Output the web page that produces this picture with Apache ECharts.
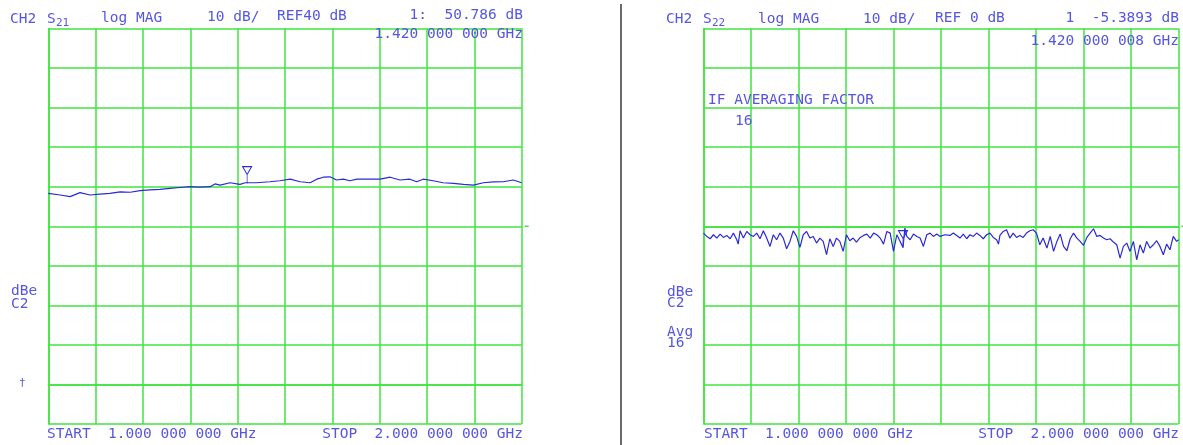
<!DOCTYPE html>
<html>
<head>
<meta charset="utf-8">
<script src="https://cdn.jsdelivr.net/npm/echarts@6/dist/echarts.min.js"></script>
<style>
html,body{margin:0;padding:0;background:#fff;}
#c{width:1183px;height:445px;}
</style>
</head>
<body>
<div id="c"></div>
<script>
// ---- data ----
const S21_FREQ_GHZ = [1.000,1.025,1.046,1.067,1.088,1.109,1.130,1.152,1.173,1.194,1.215,1.236,1.257,1.278,1.299,1.320,1.342,1.352,1.363,1.384,1.405,1.416,1.420,1.440,1.468,1.489,1.511,1.532,1.553,1.567,1.581,1.595,1.609,1.623,1.637,1.652,1.673,1.701,1.722,1.743,1.764,1.778,1.792,1.813,1.834,1.856,1.877,1.898,1.919,1.940,1.961,1.982,2.000];
const S21_DB = [48.3,47.9,47.5,48.5,47.9,48.1,48.3,48.7,48.6,49.0,49.2,49.3,49.6,49.8,50.0,49.9,50.0,50.7,50.4,51.0,50.6,51.0,50.786,51.0,51.25,51.5,51.9,51.25,51.0,51.9,52.4,52.5,51.7,51.9,51.5,51.9,51.9,51.9,52.4,51.7,51.9,51.25,51.9,51.5,51.0,50.85,50.6,50.4,51.0,51.2,51.25,51.7,51.0];

const S22_FREQ_GHZ = [1.000,1.007,1.014,1.021,1.028,1.035,1.042,1.049,1.056,1.063,1.070,1.073,1.077,1.084,1.091,1.098,1.105,1.112,1.119,1.126,1.133,1.140,1.147,1.154,1.161,1.168,1.175,1.182,1.189,1.196,1.203,1.210,1.217,1.224,1.231,1.238,1.245,1.252,1.259,1.266,1.273,1.280,1.287,1.294,1.301,1.308,1.315,1.322,1.330,1.337,1.344,1.351,1.358,1.365,1.372,1.379,1.386,1.393,1.400,1.407,1.414,1.420,1.424,1.428,1.435,1.442,1.449,1.456,1.463,1.470,1.477,1.484,1.491,1.498,1.508,
1.519,1.526,1.533,1.540,1.547,1.554,1.561,1.568,1.575,1.582,1.589,1.596,1.603,1.610,1.617,1.621,1.624,1.631,1.638,1.645,1.652,1.659,1.666,1.673,1.680,1.687,1.694,1.701,1.708,1.715,1.723,1.730,1.737,1.744,1.751,1.758,1.765,1.772,1.779,1.786,1.793,1.800,1.807,1.814,1.821,1.828,1.835,1.842,1.849,1.856,1.863,1.870,1.877,1.884,1.891,1.898,1.905,1.912,1.919,1.926,1.933,1.940,1.947,1.954,1.961,1.968,1.975,1.982,1.989,1.996,2.000];
const S22_DB = [-1.73,-2.57,-3.16,-2.15,-2.99,-1.98,-2.82,-2.32,-3.16,-1.73,-3.41,-4.51,-1.14,-2.99,-1.31,-2.15,-2.57,-1.73,-3.16,-1.14,-2.99,-5.10,-2.15,-3.41,-1.73,-2.99,-5.69,-3.83,-1.14,-2.57,-5.35,-2.15,-1.31,-2.99,-2.57,-4.25,-2.99,-3.83,-7.20,-3.16,-5.10,-2.99,-3.83,-6.36,-2.15,-3.66,-2.99,-4.00,-2.82,-2.32,-1.98,-2.99,-1.73,-2.15,-2.99,-4.51,-1.31,-1.73,-6.36,-2.15,-3.83,-5.39,-0.46,-2.57,-3.41,-1.98,-2.57,-2.99,-5.10,-2.15,-1.73,-2.57,-1.98,-2.57,-2.15,
-2.32,-1.73,-2.32,-2.99,-1.98,-3.16,-2.15,-2.57,-1.73,-2.32,-3.16,-2.15,-1.73,-2.82,-3.41,-4.51,-2.32,-1.31,-0.88,-2.99,-1.73,-2.82,-2.32,-2.82,-1.73,-1.14,-0.88,-1.73,-4.68,-2.99,-5.52,-2.57,-6.36,-3.83,-1.98,-5.10,-6.19,-3.16,-1.73,-2.99,-3.83,-4.84,-2.82,-1.73,-0.63,-2.57,-2.32,-2.99,-3.41,-3.16,-4.00,-4.68,-8.05,-5.10,-4.25,-6.36,-3.83,-8.47,-4.68,-6.78,-3.83,-5.52,-4.68,-3.66,-5.10,-7.20,-4.51,-5.94,-2.57,-3.83,-3.41];

const MARKER_GHZ = 1.42;
const S21_MARKER_DB = 50.786;
const S22_MARKER_DB = -5.3893;
const S21_REF_DB = 40;
const S22_REF_DB = 0;

// ---- styles ----
const GREEN = '#3fe43f';
const TRACE = '#2a2ad6';
const TXT = '#5656e2';
const FONT = '"DejaVu Sans Mono", "Liberation Mono", monospace';

function pairs(xs, ys){ return xs.map((x,i)=>[x, ys[i]]); }

const markerPath = 'path://M0,0 L10,0 L5,8 Z M5,8 L5,17';

function xAxis(gi){
  return {gridIndex:gi, type:'value', min:1, max:2, interval:0.1,
    axisLabel:{show:false}, axisTick:{show:false},
    axisLine:{show:true, lineStyle:{color:GREEN, width:1.5}},
    splitLine:{show:true, lineStyle:{color:GREEN, width:1.5}}};
}
function yAxis(gi, min, max){
  return {gridIndex:gi, type:'value', min:min, max:max, interval:10,
    axisLabel:{show:false}, axisTick:{show:false},
    axisLine:{show:true, lineStyle:{color:GREEN, width:1.5}},
    splitLine:{show:true, lineStyle:{color:GREEN, width:1.5}}};
}
function trace(gi, xs, ys, mdb, ref){
  return {type:'line', xAxisIndex:gi, yAxisIndex:gi, data:pairs(xs, ys),
    showSymbol:false, symbol:'none', animation:false,
    lineStyle:{color:TRACE, width:1.2}, z:5,
    markPoint:{animation:false, silent:true, data:[
      {coord:[MARKER_GHZ, mdb], symbol:markerPath, symbolSize:[9,17], symbolOffset:[0,'-50%'],
       itemStyle:{color:'rgba(0,0,0,0)', borderColor:TRACE, borderWidth:1}, label:{show:false}},
      {coord:[2, ref], symbol:'rect', symbolSize:[4,1.5], symbolOffset:[5,0],
       itemStyle:{color:GREEN}, label:{show:false}}
    ]}};
}

function t(text, x, y, opts){
  opts = opts || {};
  return {type:'text', silent:true, z:10, style:{text:text, x:x, y:y, fill:TXT,
    font:(opts.size||14.5)+'px '+FONT, textAlign:opts.align||'left', textVerticalAlign:'middle'}};
}

const texts = [
  // left panel
  t('CH2', 10, 19), t('S', 47, 19), t('21', 56, 23, {size:11}),
  t('log MAG', 101, 18), t('10 dB/', 207, 17), t('REF40 dB', 277, 16),
  t('1:  50.786 dB', 523, 15, {align:'right'}),
  t('1.420 000 000 GHz', 523, 34, {align:'right'}),
  t('dBe', 11, 291), t('C2', 11, 304), t('†', 19, 383, {size:11}),
  t('START  1.000 000 000 GHz', 47, 434),
  t('STOP  2.000 000 000 GHz', 523, 434, {align:'right'}),
  // right panel
  t('CH2', 666, 19), t('S', 703, 19), t('22', 712, 23, {size:11}),
  t('log MAG', 758, 19), t('10 dB/', 863, 19), t('REF 0 dB', 935, 18.5),
  t('1  -5.3893 dB', 1179, 18.5, {align:'right'}),
  t('1.420 000 008 GHz', 1179, 41, {align:'right'}),
  t('IF AVERAGING FACTOR', 708, 100), t('16', 735, 121),
  t('dBe', 667, 292), t('C2', 667, 303), t('Avg', 667, 332), t('16', 667, 343),
  t('START  1.000 000 000 GHz', 704, 434),
  t('STOP  2.000 000 000 GHz', 1179, 434, {align:'right'}),
  // divider
  {type:'line', silent:true, shape:{x1:621, y1:4, x2:621, y2:445}, style:{stroke:'#6a6a6a', lineWidth:2}}
];

const chart = echarts.init(document.getElementById('c'), null, {renderer:'canvas'});
chart.setOption({
  animation:false,
  backgroundColor:'#ffffff',
  grid:[
    {left:48.3, top:28.5, width:473.4, height:395.5},
    {left:703.5, top:28.5, width:475, height:395.5}
  ],
  xAxis:[xAxis(0), xAxis(1)],
  yAxis:[yAxis(0, S21_REF_DB-50, S21_REF_DB+50), yAxis(1, S22_REF_DB-50, S22_REF_DB+50)],
  series:[
    trace(0, S21_FREQ_GHZ, S21_DB, S21_MARKER_DB, S21_REF_DB),
    trace(1, S22_FREQ_GHZ, S22_DB, S22_MARKER_DB, S22_REF_DB)
  ],
  graphic:texts
});
</script>
</body>
</html>
